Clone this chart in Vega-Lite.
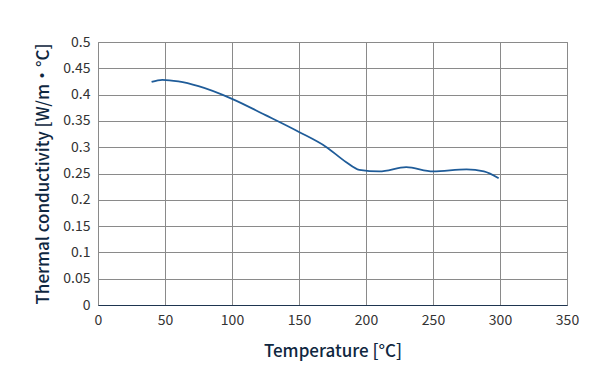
{
  "$schema": "https://vega.github.io/schema/vega-lite/v6.json",
  "autosize": "none",
  "width": 469,
  "height": 263,
  "padding": {"left": 98, "top": 42, "right": 33, "bottom": 85},
  "background": "white",
  "data": {"values": [
    {"t": 40, "k": 0.424},
    {"t": 48, "k": 0.428},
    {"t": 60, "k": 0.425},
    {"t": 75, "k": 0.416},
    {"t": 100, "k": 0.392},
    {"t": 125, "k": 0.361},
    {"t": 150, "k": 0.329},
    {"t": 170, "k": 0.301},
    {"t": 185, "k": 0.272},
    {"t": 195, "k": 0.257},
    {"t": 210, "k": 0.254},
    {"t": 230, "k": 0.262},
    {"t": 250, "k": 0.254},
    {"t": 275, "k": 0.258},
    {"t": 288, "k": 0.254},
    {"t": 299, "k": 0.241}
  ]},
  "config": {
    "view": {"stroke": "#888888", "strokeWidth": 1},
    "font": "Noto Sans CJK JP",
    "axis": {
      "gridColor": "#8a8a8a",
      "gridOpacity": 1,
      "gridWidth": 1,
      "domainColor": "#1e3550",
      "ticks": false,
      "labelFlush": false,
      "labelFont": "Noto Sans CJK JP",
      "labelFontSize": 14,
      "labelColor": "#333333",
      "titleFont": "Noto Sans CJK JP",
      "titleFontSize": 17,
      "titleFontWeight": 500,
      "titleColor": "#0f2740"
    }
  },
  "mark": {"type": "line", "interpolate": "monotone", "color": "#1f5c99", "strokeWidth": 1.8},
  "encoding": {
    "x": {"field": "t", "type": "quantitative", "title": "Temperature [°C]",
      "scale": {"domain": [0, 350], "nice": false},
      "axis": {"values": [0, 50, 100, 150, 200, 250, 300, 350], "format": "d", "labelPadding": 8, "titlePadding": 16, "domain": true}},
    "y": {"field": "k", "type": "quantitative", "title": "Thermal conductivity  [W/m・°C]",
      "scale": {"domain": [0, 0.5], "nice": false},
      "axis": {"values": [0, 0.05, 0.1, 0.15, 0.2, 0.25, 0.3, 0.35, 0.4, 0.45, 0.5], "format": "~g", "labelPadding": 8, "titlePadding": 10, "domain": false}}
  }
}
